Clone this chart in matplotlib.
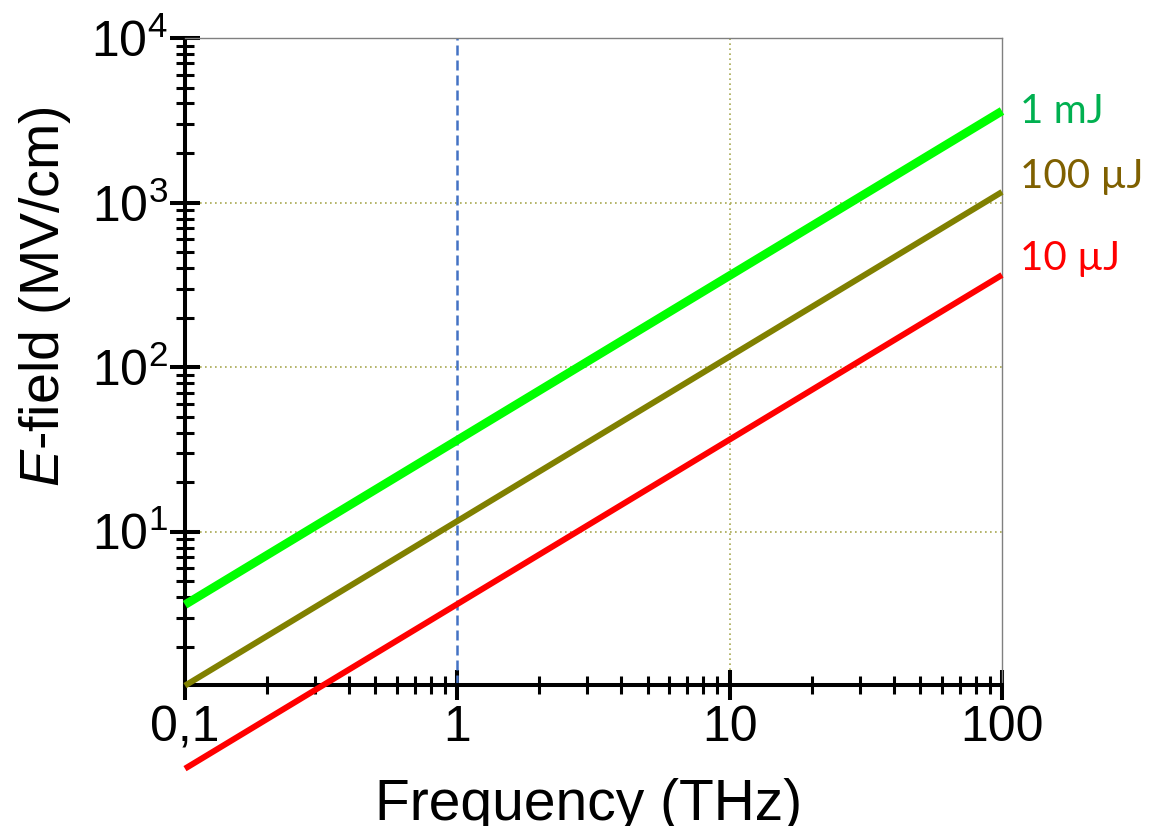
import matplotlib
matplotlib.use('Agg')
from matplotlib import pyplot as plt
from matplotlib.ticker import FixedLocator, NullFormatter


# values
freq = [0.1, 1, 10, 100]
field_1mJ = [3.6, 36, 360, 3600]
field_100uJ = [1.16, 11.6, 116, 1160]
field_10uJ = [0.363, 3.63, 36.3, 363]
series_labels = ['1 mJ', '100 µJ', '10 µJ']

x_ticks = [0.1, 1, 10, 100]
x_ticklabels = ['0,1', '1', '10', '100']
y_ticks = [10, 100, 1000, 10000]
y_ticklabels = ['$10^1$', '$10^2$', '$10^3$', '$10^4$']


def main():
    plt.rcParams['font.family'] = ['Liberation Sans', 'DejaVu Sans']
    plt.rcParams['mathtext.fontset'] = 'custom'
    plt.rcParams['mathtext.rm'] = 'Liberation Sans'
    plt.rcParams['mathtext.it'] = 'Liberation Sans:italic'

    fig = plt.figure(figsize=(11.49, 8.26), dpi=100)
    ax = fig.add_axes([185 / 1149, 1 - 685 / 826, 817 / 1149, 647 / 826])
    ax.set_xscale('log')
    ax.set_yscale('log')
    ax.set_xlim(0.1, 100)
    ax.set_ylim(1.17, 10000)

    # grid at major decades
    for yv in y_ticks[:-1]:
        ax.axhline(yv, color='#a8a850', lw=1.2, ls=(0, (1, 2)), zorder=1)
    ax.axvline(10, color='#a8a850', lw=1.2, ls=(0, (1, 2)), zorder=1)
    ax.axvline(1, color='#4472c4', lw=1.8, ls=(0, (4, 2)), zorder=2)

    line_colors = ['#00ff00', '#808000', '#ff0000']
    line_widths = [6.2, 4.3, 4.3]
    text_colors = ['#00b050', '#7f6000', '#ff0000']
    text_offsets = [0, 11, 12]
    for ys, lab, lc, lw, tc, dy in zip([field_1mJ, field_100uJ, field_10uJ], series_labels,
                                        line_colors, line_widths, text_colors, text_offsets):
        ax.plot(freq, ys, color=lc, lw=lw, solid_capstyle='butt', clip_on=False, zorder=3)
        ax.annotate(lab, xy=(freq[-1], ys[-1]), xytext=(13, dy), textcoords='offset points',
                    ha='left', va='center', color=tc, fontsize=29, family='Lato',
                    annotation_clip=False)

    ax.xaxis.set_major_locator(FixedLocator(x_ticks))
    ax.set_xticklabels(x_ticklabels)
    ax.yaxis.set_major_locator(FixedLocator(y_ticks))
    ax.set_yticklabels(y_ticklabels)
    ax.xaxis.set_minor_formatter(NullFormatter())
    ax.yaxis.set_minor_formatter(NullFormatter())

    ax.tick_params(which='major', direction='inout', length=21, width=2.9, labelsize=36, pad=2)
    ax.tick_params(which='minor', direction='inout', length=13, width=2.2)
    ax.tick_params(axis='x', which='major', pad=4)

    for s in ['left', 'bottom']:
        ax.spines[s].set_linewidth(2.9)
    for s in ['top', 'right']:
        ax.spines[s].set_linewidth(1.0)
        ax.spines[s].set_color('#808080')

    fig.text(45 / 1149, 1 - 297 / 826, r'$\mathit{E}$-field (MV/cm)', rotation=90,
             ha='center', va='center', fontsize=40)
    fig.text(589 / 1149, 1 - 778 / 826, 'Frequency (THz)', ha='center', va='top', fontsize=41)

    plt.savefig('out.png', dpi=100)


if __name__ == '__main__':
    main()
